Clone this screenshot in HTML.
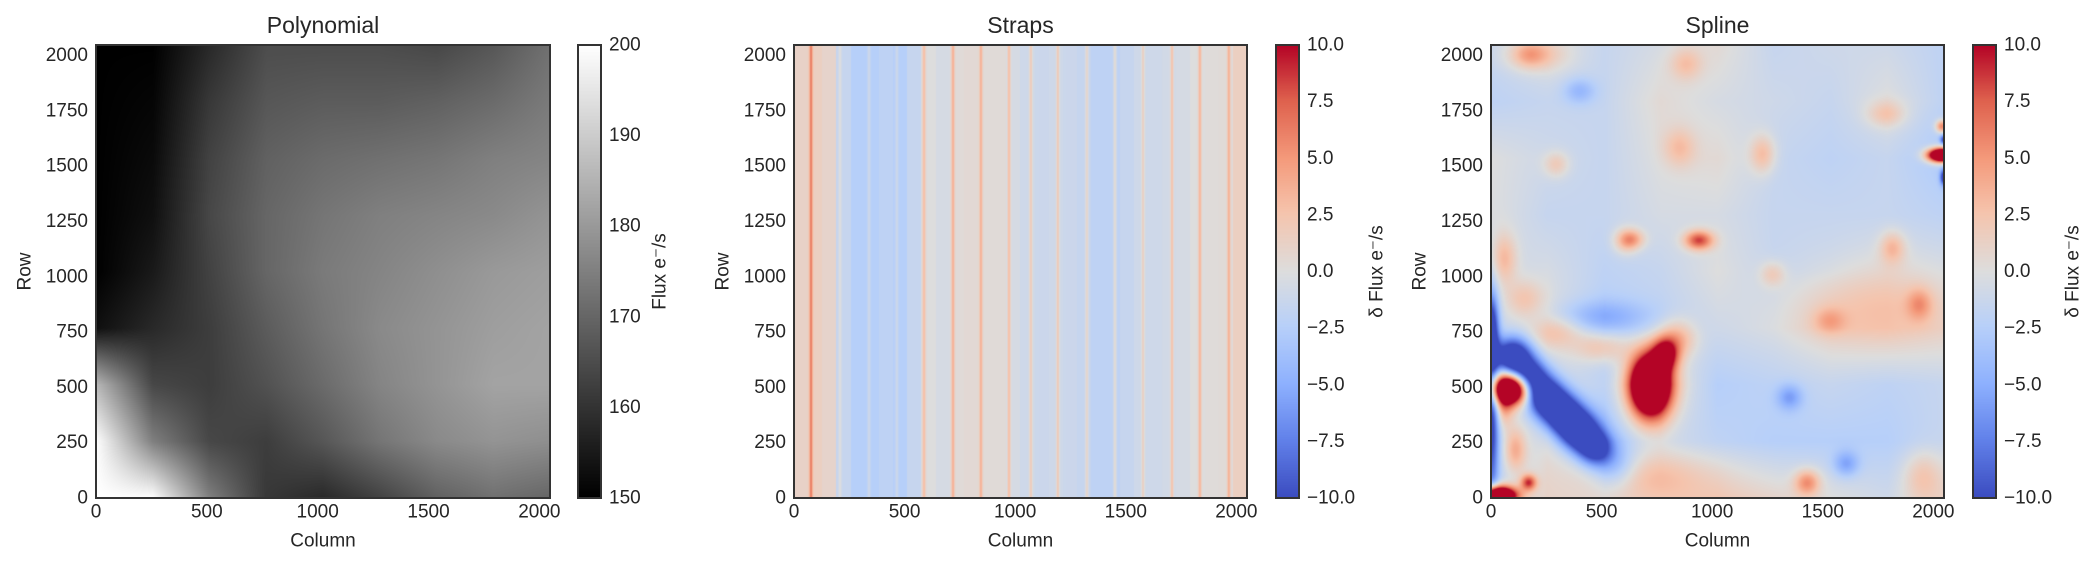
<!DOCTYPE html>
<html><head><meta charset="utf-8">
<style>
html,body{margin:0;padding:0;background:#fff;}
#root{position:relative;width:2100px;height:567px;overflow:hidden;font-family:"Liberation Sans",sans-serif;color:#262626;}
canvas{position:absolute;}
svg{position:absolute;left:0;top:0;}
</style></head>
<body>
<div id="root">
<canvas id="c1" style="left:96px;top:45px" width="454" height="453"></canvas>
<canvas id="cb1" style="left:578px;top:45px" width="23" height="453"></canvas>
<canvas id="c2" style="left:794px;top:45px" width="453" height="453"></canvas>
<canvas id="cb2" style="left:1276px;top:45px" width="23" height="453"></canvas>
<canvas id="c3" style="left:1491px;top:45px" width="453" height="453"></canvas>
<canvas id="cb3" style="left:1973px;top:45px" width="23" height="453"></canvas>
<svg id="ov" width="2100" height="567"></svg>
</div>
<script>
// ---------- data ----------
const gridCols = [0,256,512,768,1024,1280,1536,1792,2048];
const gridRows = [2048,1792,1536,1280,1024,768,512,256,0];
const polyGrid = [
 [150,150,158,165,165,165,164,167,172],
 [150,151,161,167,168,168,169,171,174],
 [150,152,163,169,171,172,173,175,176],
 [150,153,164,170,173,175,176,177,179],
 [150,155,163,170,174,176,178,180,181],
 [153,158,162,168,173,177,179,181,182],
 [186,164,162,166,171,176,179,182,182],
 [200,175,164,162,167,173,177,179,178],
 [200,200,175,161,158,163,169,172,170]
];
const strapBg = [1.2,1.5,1,-1.5,-2.5,-2.5,-2,-2.5,-1.5,0,-0.5,0.3,0.5,0.3,0.3,-0.5,-1,-1.2,-1,-1.2,-1.5,-2,-2,-1.5,-1,-1,-0.8,-0.5,0,0.2,0.3,1.5];
const strapPeakCols = [77,208,339,465,588,719,845,972,1071,1193,1324,1451,1578,1709,1835,1966];
const strapPeakAmps = [5,1.5,1.5,1.5,3,3.5,3.5,3.5,3,3,2.5,2.5,2.5,3.5,3.5,3.5];
const splineGrid = [
 [-1.5,0,-1.5,-0.5,0.5,-1.5,-1,-1,-2],
 [-2,-1.5,-1.5,0.5,-0.5,-1,-1.5,0,-2],
 [0,-1,-1.5,0,0.5,-1.5,-2,-1.5,-3],
 [0,-1.5,-1.5,-0.5,-0.5,-1.5,-1.5,-1.5,-2],
 [-1,-0.5,-2,-1.5,0,-1.5,-1,0,-0.5],
 [-1,0,-2.5,-2,-1,-0.5,1,1.5,1],
 [-1,0,-2,1,-2.5,-2,-1.5,-2,-1.5],
 [-2,0,-3,-1,-2,-2.5,-2.5,-2.5,-1.5],
 [-2,1,0,1,2,1,0,-1,1]
];
// blobs: column, row, sigmaCol, sigmaRow, amplitude
const splineBlobCol = [99,175,250,325,400,470,560,0,0,90,720,790,840,940,640,2040,2040,2048,2048,30,110,170,60,60,150,300,500,700,1430,1950,1700,500,200,
  174,882,852,1229,1786,295,611,1274,1816,1937,1530,1350,401,1606];
const splineBlobRow = [640,540,455,380,304,225,140,400,780,495,510,650,720,1165,1170,1550,1680,1450,1620,10,220,70,400,1080,900,750,680,100,70,100,880,820,2000,
  2006,1962,1584,1555,1735,1508,1162,1012,1132,876,801,455,1840,154];
const splineBlobSc  = [60,60,60,60,60,55,70,25,25,65,65,40,60,45,40,45,20,12,12,60,35,25,30,40,60,80,90,200,40,60,250,150,100,
  50,50,50,40,60,40,40,40,40,40,50,40,50,40];
const splineBlobSr  = [60,60,60,60,60,55,70,300,100,50,100,50,60,30,30,22,20,25,15,30,70,25,60,80,60,50,50,80,40,80,120,50,50,
  40,50,60,60,40,40,40,40,50,50,40,40,40,40];
const splineBlobAmp = [-14,-14,-14,-14,-14,-10,-4,-10,-8,25,25,10,5,9,4,25,8,-10,-8,25,5,9,4,4,3,3,4,3,6,3,2,-3,3,
  3,3,3,4,3,3,4,3,4,4,3,-4,-3,-4];
const rowTicks = [0,250,500,750,1000,1250,1500,1750,2000];
const colTicks = [0,500,1000,1500,2000];
const grayTicks = [150,160,170,180,190,200];
const cwTicks = [-10,-7.5,-5,-2.5,0,2.5,5,7.5,10];

// ---------- helpers ----------
const W=453, H=453, N=2048;
function bilinear(g,c,r){
  let fx=c/256, fy=(2048-r)/256;
  let i=Math.min(7,Math.max(0,Math.floor(fx))), j=Math.min(7,Math.max(0,Math.floor(fy)));
  let tx=fx-i, ty=fy-j;
  return g[j][i]*(1-tx)*(1-ty)+g[j][i+1]*tx*(1-ty)+g[j+1][i]*(1-tx)*ty+g[j+1][i+1]*tx*ty;
}
const cwStops=[[0,59,76,192],[0.13,98,130,234],[0.25,141,176,254],[0.38,184,208,249],[0.5,221,221,221],[0.63,245,196,173],[0.75,244,154,123],[0.88,222,96,77],[1,180,4,38]];
function coolwarm(t){
  t=Math.max(0,Math.min(1,t));
  for(let k=1;k<cwStops.length;k++){ if(t<=cwStops[k][0]){const a=cwStops[k-1],b=cwStops[k];const u=(t-a[0])/(b[0]-a[0]);return [a[1]+(b[1]-a[1])*u,a[2]+(b[2]-a[2])*u,a[3]+(b[3]-a[3])*u];}}
  return [180,4,38];
}
function paint(id,w,h,fn){
  const cv=document.getElementById(id),ctx=cv.getContext('2d'),im=ctx.createImageData(w,h);
  for(let y=0;y<h;y++)for(let x=0;x<w;x++){const c=fn(x,y);const o=(y*w+x)*4;im.data[o]=c[0];im.data[o+1]=c[1];im.data[o+2]=c[2];im.data[o+3]=255;}
  ctx.putImageData(im,0,0);
}
const xCol=(x,w)=>(x+0.5)/w*N, yRow=(y,h)=>N-(y+0.5)/h*N;

// polynomial
paint('c1',454,453,(x,y)=>{const v=bilinear(polyGrid,xCol(x,454),yRow(y,453));const g=Math.max(0,Math.min(255,(v-150)/50*255));return [g,g,g];});
paint('cb1',23,453,(x,y)=>{const g=255*(1-y/452);return [g,g,g];});
// straps
function strapVal(c){let v=strapBg[Math.min(31,Math.floor(c/64))];for(let k=0;k<strapPeakCols.length;k++){const d=c-strapPeakCols[k];v+=strapPeakAmps[k]*Math.exp(-d*d/(2*25));}return v;}
paint('c2',W,H,(x,y)=>coolwarm((strapVal(xCol(x,W))+10)/20));
// spline
paint('c3',W,H,(x,y)=>{const c=xCol(x,W),r=yRow(y,H);let v=bilinear(splineGrid,c,r);
  for(let k=0;k<splineBlobCol.length;k++){const dc=(c-splineBlobCol[k])/splineBlobSc[k],dr=(r-splineBlobRow[k])/splineBlobSr[k];v+=splineBlobAmp[k]*Math.exp(-0.5*(dc*dc+dr*dr));}
  return coolwarm((v+10)/20);});
paint('cb2',23,453,(x,y)=>coolwarm(1-y/452));
paint('cb3',23,453,(x,y)=>coolwarm(1-y/452));

// ---------- annotations ----------
const NS='http://www.w3.org/2000/svg', ov=document.getElementById('ov');
function txt(s,x,y,size,anchor,name,rot){const t=document.createElementNS(NS,'text');t.setAttribute('x',x);t.setAttribute('y',y);t.setAttribute('font-size',size);t.setAttribute('text-anchor',anchor);t.setAttribute('dominant-baseline','central');t.setAttribute('fill','#262626');t.setAttribute('font-family','"Liberation Sans", sans-serif');if(rot)t.setAttribute('transform','rotate(-90 '+x+' '+y+')');t.textContent=s;
  
  
  ov.appendChild(t);return t;}
function box(x,y,w,h,name){const r=document.createElementNS(NS,'rect');r.setAttribute('x',x);r.setAttribute('y',y);r.setAttribute('width',w);r.setAttribute('height',h);r.setAttribute('fill','none');r.setAttribute('stroke','#333');r.setAttribute('stroke-width','2');
  
  
  ov.appendChild(r);}
const panels=[{x:96,w:454,title:'Polynomial',cbx:578,key:'polynomial',ticks:grayTicks,lo:150,hi:200,fmt:v=>String(v),label:'Flux e\u207B/s',lx:660},
 {x:794,w:453,title:'Straps',cbx:1276,key:'straps',ticks:cwTicks,lo:-10,hi:10,fmt:v=>v.toFixed(1).replace('-','\u2212'),label:'\u03B4 Flux e\u207B/s',lx:1377},
 {x:1491,w:453,title:'Spline',cbx:1973,key:'spline',ticks:cwTicks,lo:-10,hi:10,fmt:v=>v.toFixed(1).replace('-','\u2212'),label:'\u03B4 Flux e\u207B/s',lx:2073}];
const axTop=45,ph=453;
panels.forEach(p=>{
  box(p.x,axTop,p.w,ph,p.key+'-axes-frame');
  box(p.cbx,axTop,23,ph,p.key+'-colorbar-frame');
  txt(p.title,p.x+p.w/2,25,23,'middle',p.key+'-title');
  rowTicks.forEach(r=>txt(String(r),p.x-8,axTop+ph-r/N*ph,19,'end',p.key+'-y-tick'));
  colTicks.forEach(c=>txt(String(c),p.x+c/N*p.w,512,19,'middle',p.key+'-x-tick'));
  txt('Column',p.x+p.w/2,541,19,'middle',p.key+'-x-axis-title');
  txt('Row',p.x-71,axTop+ph/2,19,'middle',p.key+'-y-axis-title',true);
  p.ticks.forEach(v=>txt(p.fmt(v),p.cbx+31,axTop+ph-(v-p.lo)/(p.hi-p.lo)*ph,19,'start',p.key+'-colorbar-tick'));
  txt(p.label,p.lx,axTop+ph/2,19,'middle',p.key+'-colorbar-label',true);
});
</script>
</body></html>
